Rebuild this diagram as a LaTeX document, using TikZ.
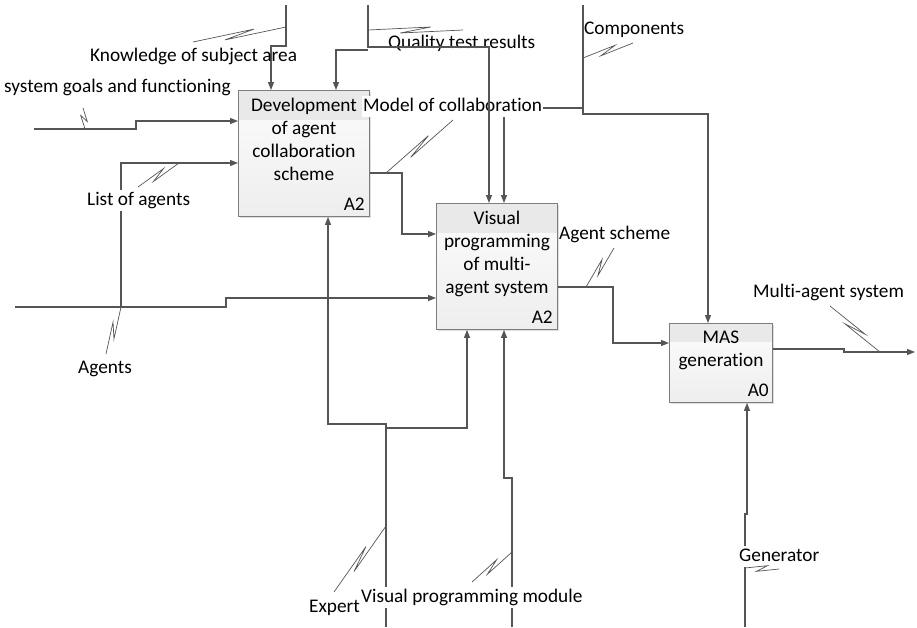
\documentclass[tikz,border=0pt]{standalone}
\usepackage{fontspec}
\setmainfont{Carlito}[Ligatures={NoCommon}]
\usetikzlibrary{arrows.meta,calc,shadows}
\definecolor{lineclr}{RGB}{85,85,85}
\definecolor{boxedge}{RGB}{125,125,125}
\definecolor{boxtop}{RGB}{252,252,252}
\definecolor{boxbottom}{RGB}{238,238,238}
\definecolor{boxhead}{RGB}{233,233,233}
\definecolor{boxshade}{RGB}{200,200,200}

% IDEF0 squiggle tying a label to its arrow: #1 on the arrow, #2 at the label
\newcommand{\zigzag}[2]{%
  \draw[squig] (#1) -- ($(#1)!0.66!(#2)!3pt!90:(#2)$)
                    -- ($(#1)!0.34!(#2)!3pt!-90:(#2)$) -- (#2);}

\begin{document}
\begin{tikzpicture}[x=1pt,y=-1pt,
  font=\fontsize{19.3}{23}\selectfont,
  conn/.style={draw=lineclr, line width=1.1pt},
  arr/.style={conn, -{Triangle[length=8pt,width=6pt]}},
  squig/.style={draw=lineclr, line width=0.7pt},
  actbox/.style={draw=boxedge, line width=0.9pt, top color=boxtop,
                 bottom color=boxbottom, anchor=north west, inner sep=0pt,
                 drop shadow={shadow xshift=1.5pt, shadow yshift=-1.5pt,
                              fill=boxshade, opacity=0.6}},
  hdr/.style={path picture={\fill[boxhead]
      (path picture bounding box.north west) rectangle
      ([yshift=-#1]path picture bounding box.north east);}},
  boxtext/.style={anchor=north, align=center, inner sep=0pt},
  boxnum/.style={anchor=base east, inner sep=0pt},
  lbl/.style={fill=white, anchor=base west, inner xsep=1pt, inner ysep=2pt,
              text height=13pt, text depth=4pt},
  bare/.style={anchor=base west, inner sep=0pt},
]
\useasboundingbox (0,0) rectangle (917,627);

% activity boxes
\node[actbox, hdr=30pt, minimum width=131pt, minimum height=126pt] (b1) at (238,90) {};
\node[actbox, hdr=30pt, minimum width=121pt, minimum height=126pt] (b2) at (436,203) {};
\node[actbox, hdr=19pt, minimum width=103pt, minimum height=79pt] (b3) at (669,323) {};

\node[boxtext] (t1) at ([yshift=-7.5pt]b1.north) {Development\\of agent\\collaboration\\scheme};
\node[boxtext] (t2) at ([yshift=-7.5pt]b2.north) {Visual\\programming\\of multi-\\agent system};
\node[boxtext] (t3) at ([yshift=-7.5pt]b3.north) {MAS\\generation};
\node[boxnum] (n1) at ([xshift=-5pt,yshift=6pt]b1.south east) {A2};
\node[boxnum] (n2) at ([xshift=-5pt,yshift=6pt]b2.south east) {A2};
\node[boxnum] (n3) at ([xshift=-4pt,yshift=6pt]b3.south east) {A0};

% free ends of the boundary arrows
\coordinate (know) at (286,5);
\coordinate (qual) at (368,5);
\coordinate (comp) at (583,5);
\coordinate (goal) at (34,129);
\coordinate (agent) at (15,307);
\coordinate (mas) at (915,352);
\coordinate (expert) at (386,627);
\coordinate (vpm) at (512,627);
\coordinate (gen) at (745,627);

% inputs
\draw[arr] (goal) -- (136,129) -- (136,121) -- (b1.west |- 0,121);
\draw[arr] (agent) -- (226,307) -- (226,298) -- (b2.west |- 0,298);
\draw[arr] (121,307) |- (b1.west |- 0,163);
\draw[arr] (b1.east |- 0,173) -| (402,234) -- (b2.west |- 0,234);
\draw[arr] (b2.east |- 0,287) -| (613,343) -- (b3.west |- 0,343);

% output
\draw[arr] (b3.east |- 0,349) -- (844,349) -- (844,352) -- (mas);

% controls
\draw[arr] (know) -- (286,46) -| (b1.north -| 271,0);
\draw[conn] (comp) -- (583,108) -- (504,108);
\draw[arr] (504,108) -- (b2.north -| 504,0);
\draw[arr] (583,108) -- (583,114) -| (b3.north -| 708,0);

% mechanisms
\draw[arr] (expert) -- (386,424) -| (b1.south -| 328,0);
\draw[arr] (386,428) -| (b2.south -| 467,0);
\draw[arr] (vpm) -- (512,478) -- (504,478) -- (b2.south -| 504,0);
\draw[arr] (gen) -- (745,514) -- (747,514) -- (b3.south -| 747,0);

% labels
\node[lbl] (lmodel) at (362,111) {Model of collaboration};
\node[lbl] (llist) at (86,205) {List of agents};
\node[lbl] (lvpm) at (360,602) {Visual programming module};
\node[lbl] (lgen) at (738,561) {Generator};
\node[bare] (lknow) at (90,61) {Knowledge of subject area};
\node[bare] (lgoal) at (4,92) {system goals and functioning};
\node[bare] (lqual) at (388,48) {Quality test results};
\node[bare] (lcomp) at (584,34) {Components};
\node[bare] (lscheme) at (559,239) {Agent scheme};
\node[bare] (lmas) at (753,297) {Multi-agent system};
\node[bare] (lagents) at (78,373) {Agents};
\node[bare] (lexpert) at (309,612) {Expert};

% quality test results run over the collaboration label
\draw[arr] (qual) -- (368,47) -| (b2.north -| 489,0);
\draw[arr] (368,50) -| (b1.north -| 336,0);

% squiggles
\zigzag{286,27}{193,42}
\zigzag{85,129}{83,108}
\zigzag{179,163}{138,187}
\zigzag{121,307}{106,354}
\zigzag{368,30}{463,30}
\zigzag{386,173}{453,120}
\zigzag{583,58}{633,43}
\zigzag{586,287}{614,248}
\zigzag{880,352}{830,306}
\zigzag{386,526}{334,592}
\zigzag{512,552}{472,582}
\zigzag{745,568}{779,569}
\end{tikzpicture}
\end{document}
